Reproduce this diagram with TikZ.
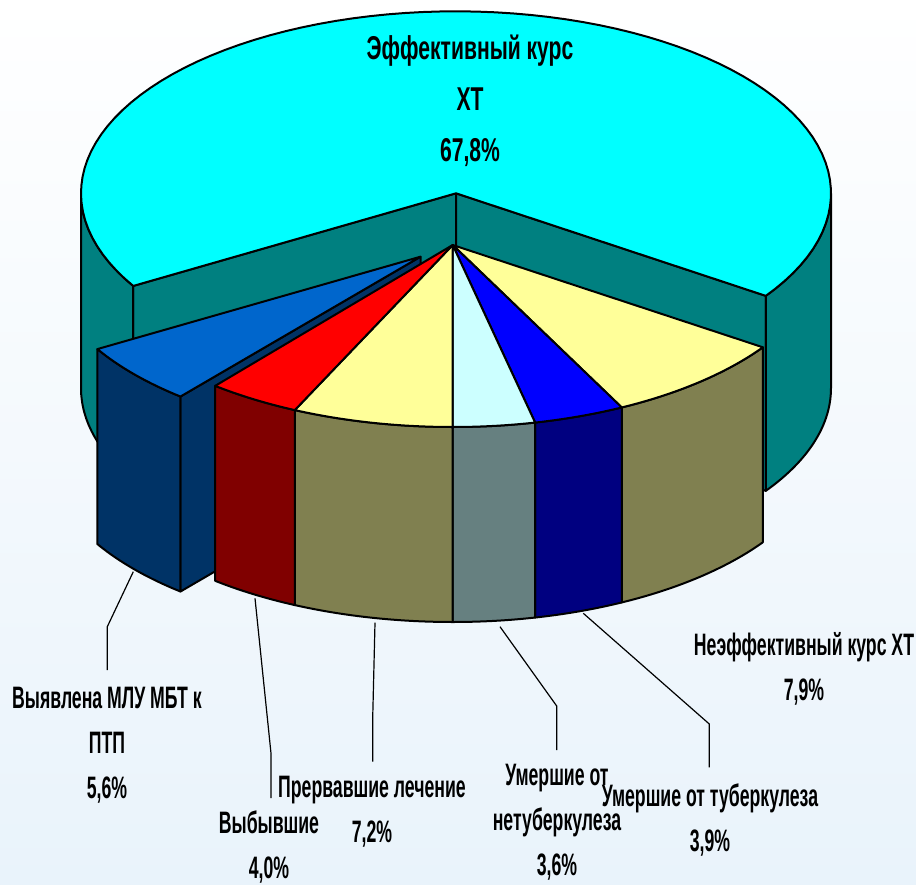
\documentclass[tikz,border=0pt]{standalone}
\usepackage{fontspec}
\newfontfamily\labfont{Liberation Sans}[FakeStretch=0.57]
\newfontfamily\labfontbig{Liberation Sans}[FakeStretch=0.64]
\definecolor{cyantop}{HTML}{00FFFF}
\definecolor{tealwall}{HTML}{008080}
\definecolor{mlutop}{HTML}{0066CC}
\definecolor{mluwall}{HTML}{003366}
\definecolor{mluside}{HTML}{003366}
\definecolor{redtop}{HTML}{FF0000}
\definecolor{redwall}{HTML}{800000}
\definecolor{yeltop}{HTML}{FFFF99}
\definecolor{olivewall}{HTML}{808050}
\definecolor{lctop}{HTML}{CCFFFF}
\definecolor{lcwall}{HTML}{668080}
\definecolor{bluetop}{HTML}{0000FF}
\definecolor{navywall}{HTML}{000080}
\definecolor{bgbottom}{HTML}{E9F3FB}
\tikzset{
  edge/.style={draw=black, line width=2pt, line join=round},
  leader/.style={draw=black, line width=1.2pt},
  lab/.style={font=\labfont\bfseries\fontsize{31}{45}\selectfont, align=center, inner sep=0pt},
  labbig/.style={font=\labfontbig\bfseries\fontsize{33}{51}\selectfont, align=center, inner sep=0pt},
}
% wall of a slice: center x, center y, t1, t2, colour
\newcommand{\slicewall}[5]{%
  \filldraw[edge, fill=#5] plot[domain=#3:#4, samples=30, variable=\t] ({#1+375*cos(\t)},{#2+182*sin(\t)})
   -- plot[domain=#4:#3, samples=30, variable=\t] ({#1+375*cos(\t)},{#2+195+182*sin(\t)}) -- cycle;}
% top of a slice
\newcommand{\slicetop}[5]{%
  \filldraw[edge, fill=#5] (#1,#2) -- plot[domain=#3:#4, samples=40, variable=\t] ({#1+375*cos(\t)},{#2+182*sin(\t)}) -- cycle;}
% radial face of a slice at angle t
\newcommand{\sliceside}[4]{%
  \filldraw[edge, fill=#4] (#1,#2) -- ({#1+375*cos(#3)},{#2+182*sin(#3)}) -- ({#1+375*cos(#3)},{#2+195+182*sin(#3)}) -- (#1,{#2+195}) -- cycle;}
\begin{document}
\begin{tikzpicture}[x=1pt,y=-1pt]
\useasboundingbox (0,0) rectangle (916,884);
\shade[top color=white, bottom color=bgbottom] (0,0) rectangle (916,884);

% ---- main cyan slice (67.8%) ----
\sliceside{456}{193.3}{149.4}{tealwall}
\sliceside{456}{193.3}{34.3}{tealwall}
\slicewall{456}{193.3}{149.4}{180}{tealwall}
\slicewall{456}{193.3}{0}{34.3}{tealwall}
\draw[edge, line width=1.2pt] (456,193.3) -- (456,388.3);
\filldraw[edge, fill=cyantop] (456,193.3) -- plot[domain=34.3:-210.6, samples=90, variable=\t] ({456+375*cos(\t)},{193.3+182*sin(\t)}) -- cycle;

% ---- exploded MLU slice (5.6%) ----
\sliceside{420.5}{256.7}{129.8}{mluside}
\slicewall{420.5}{256.7}{129.8}{149.5}{mluwall}
\slicetop{420.5}{256.7}{129.8}{149.5}{mlutop}

% ---- front group ----
\slicewall{452.7}{245}{34.2}{63.2}{olivewall}
\slicewall{452.7}{245}{63.2}{77.3}{navywall}
\slicewall{452.7}{245}{77.3}{90}{lcwall}
\slicewall{452.7}{245}{90}{114.9}{olivewall}
\slicewall{452.7}{245}{114.9}{129.3}{redwall}
\slicetop{452.7}{245}{34.2}{63.2}{yeltop}
\slicetop{452.7}{245}{63.2}{77.3}{bluetop}
\slicetop{452.7}{245}{77.3}{90}{lctop}
\slicetop{452.7}{245}{90}{114.9}{yeltop}
\slicetop{452.7}{245}{114.9}{129.3}{redtop}

% ---- labels ----
\node[labbig] (eff) at (470,101) {Эффективный курс\\ХТ\\67,8\%};
\node[lab] (neff) at (804,669) {Неэффективный курс ХТ\\7,9\%};
\node[lab] (tub) at (710,820) {Умершие от туберкулеза\\3,9\%};
\node[lab] (ntub) at (557,822) {Умершие от\\нетуберкулеза\\3,6\%};
\node[lab] (mlu) at (107,745) {Выявлена МЛУ МБТ к\\ПТП\\5,6\%};
\node[lab] (prer) at (372,812) {Прервавшие лечение\\7,2\%};
\node[lab] (vyb) at (269,847) {Выбывшие\\4,0\%};

% ---- leader lines ----
\coordinate (mluS) at (133.3,571.7);  \coordinate (mluK) at (107.3,626.7);  \coordinate (mluE) at (107.3,670);
\coordinate (vybS) at (255,598.3);    \coordinate (vybK) at (271,753.3);    \coordinate (vybE) at (271,798);
\coordinate (prerS) at (375,622.7);   \coordinate (prerK) at (372.7,718.3); \coordinate (prerE) at (372.7,761.7);
\coordinate (ntubS) at (500,626.7);   \coordinate (ntubK) at (556.7,706);   \coordinate (ntubE) at (556.7,750);
\coordinate (tubS) at (583.3,613.3);  \coordinate (tubK) at (709.3,724);    \coordinate (tubE) at (709.3,767.3);
\draw[leader] (mluS) -- (mluK) -- (mluE);
\draw[leader] (vybS) -- (vybK) -- (vybE);
\draw[leader] (prerS) -- (prerK) -- (prerE);
\draw[leader] (ntubS) -- (ntubK) -- (ntubE);
\draw[leader] (tubS) -- (tubK) -- (tubE);
\end{tikzpicture}
\end{document}
